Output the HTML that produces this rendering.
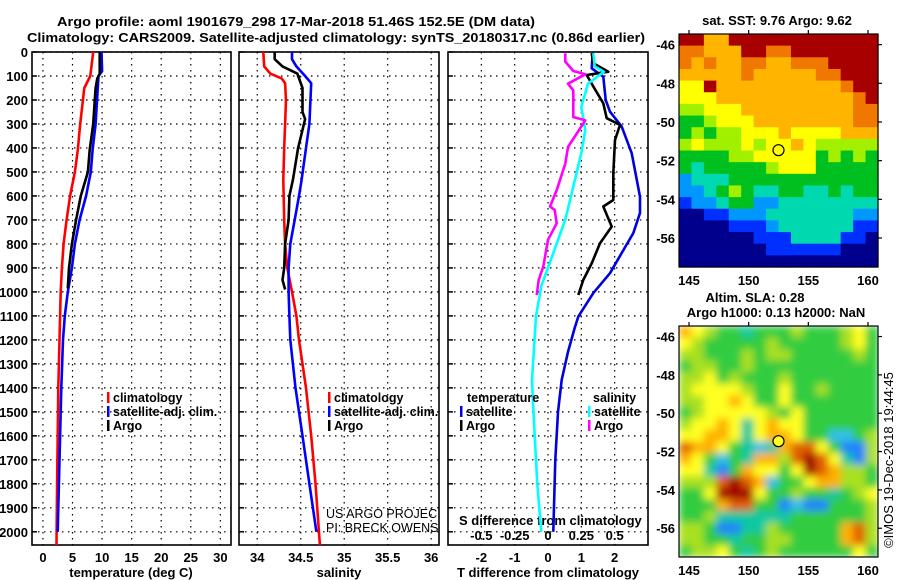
<!DOCTYPE html>
<html><head><meta charset="utf-8"><style>
html,body{margin:0;padding:0;background:#fff;}
svg{display:block;font-family:"Liberation Sans",Arial,sans-serif;}
.b{font-weight:bold;font-size:13px;}
.lg{font-weight:bold;font-size:12.5px;}
</style></head><body>
<svg id="fig" width="900" height="580" viewBox="0 0 900 580">
<defs>
<filter id="blur2" filterUnits="userSpaceOnUse" x="679" y="326" width="199" height="231"><feGaussianBlur stdDeviation="4" edgeMode="duplicate"/></filter>
</defs>
<text x="57" y="26" class="b" font-size="14" textLength="478" lengthAdjust="spacingAndGlyphs">Argo profile: aoml 1901679_298 17-Mar-2018 51.46S 152.5E (DM data)</text>
<text x="27" y="42" class="b" font-size="14" textLength="618" lengthAdjust="spacingAndGlyphs">Climatology: CARS2009. Satellite-adjusted climatology: synTS_20180317.nc (0.86d earlier)</text>
<g id="p1"></g>
<g id="p2"></g>
<g id="p3"></g>
<g id="m1"></g>
<g id="m2"></g>
<text x="893" y="460" font-size="13" text-anchor="middle" transform="rotate(-90 893 460)">©IMOS 19-Dec-2018 19:44:45</text>
</svg>
<script>
// ---- data ----
const depthTicks=[0,100,200,300,400,500,600,700,800,900,1000,1100,1200,1300,1400,1500,1600,1700,1800,1900,2000];
const tempTicks=[0,5,10,15,20,25,30];
const salTicks=[34,34.5,35,35.5,36];
const salTickLabels=['34','34.5','35','35.5','36'];
const tdiffTicks=[-2,-1,0,1,2];
const sdiffTicks=[-0.5,-0.25,0,0.25,0.5];
const sdiffTickLabels=['-0.5','-0.25','0','0.25','0.5'];

const tClimDepth=[0,100,150,300,408,500,600,700,800,900,1000,1100,1200,1400,1800,2055];
const tClimVal=[8.5,8.0,7.0,6.3,5.9,5.4,4.6,4.0,3.5,3.2,3.0,2.9,2.8,2.6,2.4,2.3];
const tSatDepth=[0,80,100,300,408,500,600,700,800,900,1000,1100,1200,1400,1800,2000];
const tSatVal=[9.9,10.0,9.4,8.9,8.4,8.1,7.3,6.2,5.4,4.9,4.2,3.7,3.4,3.1,2.7,2.5];
const tArgoDepth=[0,90,110,150,300,408,500,600,700,800,900,985];
const tArgoVal=[9.6,9.6,9.2,8.9,8.5,7.9,7.6,6.4,5.6,4.9,4.4,4.2];

const sClimDepth=[0,60,90,110,130,200,400,533,700,800,900,1000,1100,1200,1400,1600,1800,2055];
const sClimVal=[34.07,34.08,34.15,34.28,34.32,34.33,34.31,34.30,34.31,34.32,34.345,34.40,34.45,34.48,34.56,34.62,34.67,34.72];
const sSatDepth=[0,30,60,100,130,300,400,533,600,700,800,900,1000,1100,1200,1400,1600,1800,2000];
const sSatVal=[34.40,34.40,34.45,34.55,34.62,34.60,34.56,34.51,34.48,34.43,34.38,34.36,34.36,34.37,34.38,34.44,34.52,34.60,34.68];
const sArgoDepth=[0,30,60,90,150,250,280,400,533,600,700,800,900,950,990];
const sArgoVal=[34.20,34.20,34.29,34.46,34.52,34.52,34.55,34.47,34.41,34.37,34.36,34.32,34.31,34.29,34.32];

const dTSatDepth=[5,68,103,200,249,311,422,603,671,755,838,922,1005,1103,1150,1250,1367,1500,1700,2000];
const dTSatVal=[1.34,1.31,1.66,1.73,1.86,2.21,2.51,2.76,2.76,2.56,2.21,1.86,1.36,0.91,0.8,0.6,0.41,0.3,0.22,0.16];
const dTArgoDepth=[5,47,82,96,144,214,276,304,367,506,617,644,728,797,881,950,1013];
const dTArgoVal=[1.31,1.36,1.81,1.16,1.36,1.66,1.76,2.16,2.01,1.96,1.96,1.66,1.91,1.56,1.31,1.06,0.91];
const dSSatDepth=[5,60,82,132,229,326,422,561,699,838,976,1101,1367,1600,1800,2000];
const dSSatVal=[0.34,0.35,0.42,0.30,0.25,0.28,0.25,0.19,0.13,0.04,-0.05,-0.09,-0.12,-0.10,-0.08,-0.05];
const dSArgoDepth=[5,40,79,93,132,160,271,285,396,465,576,644,658,714,783,894,950,1013];
const dSArgoVal=[0.13,0.13,0.19,0.28,0.15,0.19,0.19,0.28,0.15,0.13,0.065,0.015,0.05,0.065,0.0,-0.035,-0.07,-0.085];

const lonTicks=[145,150,155,160];
const latTicks=[-46,-48,-50,-52,-54,-56];
const argoLon=152.5, argoLat=-51.46;
const sstGrid=["9977999999999999","8877799889999999","8787788778889999","7777787777788999","6697777777777899","6667777777777789","5566677777777788","4456667777777788","4545566676666777","5655565667655555","4444556666645454","4344444566644444","2333444444444444","2234543344334344","1223442233333333","0011222333333322","0000111233333311","0000001113333110","0000000111111000","0000000000000000"];
const slaGrid=["7654434445444564","6544444544444564","5544454554444454","4554454444444444","5564544454444444","5666654464454444","5566764464444444","4566666546444444","5667636766444444","6677636776442245","8776432378864115","7642437758986315","6631476646987554","5558987244677554","4469996445443456","4447884412114445","4453333334444445","5541133544444785","5544344554444785","4556434544444464"];
const sstColors=["#00008c","#0030ff","#0098ff","#00d8b0","#00c020","#a0f000","#ffff00","#ffb400","#f07800","#a80000"];
const slaColors=["#0030e0","#2080ff","#30c0e8","#10c8a0","#30cc40","#a8e020","#ffff20","#ffb000","#e06000","#a00000"];

// ---- helpers ----
const NS="http://www.w3.org/2000/svg";
function mk(parent,tag,attrs,txt){const e=document.createElementNS(NS,tag);for(const k in attrs)e.setAttribute(k,attrs[k]);if(txt!==undefined)e.textContent=txt;parent.appendChild(e);return e;}
const yTop=52,yBot=545;
const yD=d=>yTop+d*(yBot-yTop)/2055;

function panel(g,x0,x1,xmin,xmax,ticks,labels,grid,name){
  const xs=v=>x0+(v-xmin)*(x1-x0)/(xmax-xmin);
  for(const d of depthTicks){
    const y=yD(d);
    const l=mk(g,'line',{x1:x0,x2:x1,y1:y,y2:y,stroke:'#000','stroke-width':1.2,'stroke-dasharray':'1.5,4.5'});
    
    
    const t=mk(g,'line',{x1:x0,x2:x0+5,y1:y,y2:y,stroke:'#000','stroke-width':1.5});
    
    
  }
  grid.forEach(v=>{
    const x=xs(v);
    const l=mk(g,'line',{x1:x,x2:x,y1:yTop,y2:yBot,stroke:'#000','stroke-width':1.2,'stroke-dasharray':'1.5,4.5'});
    
    
  });
  if(labels){ticks.forEach((v,i)=>{
    const t=mk(g,'text',{x:xs(v),y:562,'text-anchor':'middle',class:'b'},labels[i]);
    
    
  });}
  const r=mk(g,'rect',{x:x0,y:yTop,width:x1-x0,height:yBot-yTop,fill:'none',stroke:'#000','stroke-width':1.6});
  
  
  return xs;
}
function line(g,xs,depths,vals,color,name){
  const pts=depths.map((d,i)=>xs(vals[i]).toFixed(1)+','+yD(d).toFixed(1)).join(' ');
  const p=mk(g,'polyline',{points:pts,fill:'none',stroke:color,'stroke-width':2.6,'stroke-linejoin':'round'});
  
  
}
function legendItem(g,x,y,color,label,name){
  const r=mk(g,'rect',{x:x,y:y-10,width:2.5,height:11,fill:color});
  
  
  const t=mk(g,'text',{x:x+6,y:y,class:'lg'},label);
  
  
}

// y tick labels
const svg=document.getElementById('fig');
depthTicks.forEach(d=>{
  const t=mk(svg,'text',{x:28,y:yD(d)+5,'text-anchor':'end',class:'b'},String(d));
  
  
});

// panel 1
const g1=document.getElementById('p1');
const xs1=panel(g1,32,231,-1.85,31.8,tempTicks,tempTicks.map(String),tempTicks,'temperature-panel');
line(g1,xs1,tClimDepth,tClimVal,'#ff0000','temp-climatology-line');
line(g1,xs1,tSatDepth,tSatVal,'#0000ff','temp-satellite-line');
line(g1,xs1,tArgoDepth,tArgoVal,'#000000','temp-argo-line');
legendItem(g1,107,402,'#ff0000','climatology','legend-climatology');
legendItem(g1,107,416,'#0000ff','satellite-adj. clim.','legend-satellite');
legendItem(g1,107,430,'#000000','Argo','legend-argo');
mk(g1,'text',{x:131,y:577,'text-anchor':'middle',class:'b'},'temperature (deg C)');

// panel 2
const g2=document.getElementById('p2');
const xs2=panel(g2,239,439,33.79,36.09,salTicks,salTickLabels,salTicks,'salinity-panel');
line(g2,xs2,sClimDepth,sClimVal,'#ff0000','sal-climatology-line');
line(g2,xs2,sSatDepth,sSatVal,'#0000ff','sal-satellite-line');
line(g2,xs2,sArgoDepth,sArgoVal,'#000000','sal-argo-line');
legendItem(g2,328,402,'#ff0000','climatology','legend-climatology');
legendItem(g2,328,416,'#0000ff','satellite-adj. clim.','legend-satellite');
legendItem(g2,328,430,'#000000','Argo','legend-argo');
mk(g2,'text',{x:326,y:518,'font-size':12.5},'US ARGO PROJEC');
mk(g2,'text',{x:326,y:532,'font-size':12.5},'PI: BRECK OWENS');
mk(g2,'text',{x:339,y:577,'text-anchor':'middle',class:'b'},'salinity');

// panel 3
const g3=document.getElementById('p3');
const xs3=panel(g3,448,648,-3,3,tdiffTicks,tdiffTicks.map(String),tdiffTicks,'difference-panel');
const sx=v=>xs3(v*4);
sdiffTicks.forEach((v,i)=>{
  const t=mk(g3,'text',{x:sx(v),y:540,'text-anchor':'middle',class:'b'},sdiffTickLabels[i]);
  
  
});
mk(g3,'text',{x:459,y:525,class:'b'},'S difference from climatology');
line(g3,xs3,dTSatDepth,dTSatVal,'#0000e0','t-diff-satellite-line');
line(g3,xs3,dTArgoDepth,dTArgoVal,'#000000','t-diff-argo-line');
line(g3,sx,dSSatDepth,dSSatVal,'#00ffff','s-diff-satellite-line');
line(g3,sx,dSArgoDepth,dSArgoVal,'#ff00ff','s-diff-argo-line');
mk(g3,'text',{x:467,y:402,class:'lg'},'temperature');
legendItem(g3,460,416,'#0000e0','satellite','legend-t-satellite');
legendItem(g3,460,430,'#000000','Argo','legend-t-argo');
mk(g3,'text',{x:593,y:402,class:'lg'},'salinity');
legendItem(g3,588,416,'#00ffff','satellite','legend-s-satellite');
legendItem(g3,588,430,'#ff00ff','Argo','legend-s-argo');
mk(g3,'text',{x:548,y:577,'text-anchor':'middle',class:'b'},'T difference from climatology');

// maps
function map(g,y0,y1,gridRows,colors,markerFill,name,labelY,filterId){
  const x0=679,x1=878,lonMin=144.16,lonMax=160.84,latTop=-45.45,latBot=-57.5;
  const lx=v=>x0+(v-lonMin)*(x1-x0)/(lonMax-lonMin);
  const ly=v=>y0+(latTop-v)*(y1-y0)/(latTop-latBot);
  const nr=gridRows.length,nc=gridRows[0].length;
  const cw=(x1-x0)/nc,ch=(y1-y0)/nr;
  const cg=mk(g,'g',filterId?{filter:'url(#'+filterId+')'}:{});
  
  
  gridRows.forEach((row,r)=>{for(let c=0;c<nc;c++){
    const cell=mk(cg,'rect',{x:x0+c*cw,y:y0+r*ch,width:cw+0.6,height:ch+0.6,fill:colors[+row[c]]});
    
    
  }});
  const fr=mk(g,'rect',{x:x0,y:y0,width:x1-x0,height:y1-y0,fill:'none',stroke:'#000','stroke-width':1.2});
  
  
  lonTicks.forEach(v=>{
    mk(g,'line',{x1:lx(v),x2:lx(v),y1:y0,y2:y0-4,stroke:'#000','stroke-width':1.2});
    const t=mk(g,'text',{x:lx(v),y:labelY,'text-anchor':'middle',class:'b'},String(v));
    
    
  });
  latTicks.forEach(v=>{
    mk(g,'line',{x1:x1,x2:x1+4,y1:ly(v),y2:ly(v),stroke:'#000','stroke-width':1.2});
    const t=mk(g,'text',{x:675,y:ly(v)+5,'text-anchor':'end',class:'b'},String(v));
    
    
  });
  const m=mk(g,'circle',{cx:lx(argoLon),cy:ly(argoLat),r:5.5,fill:markerFill,stroke:'#000','stroke-width':1.2});
  
  
}
const m1=document.getElementById('m1');
map(m1,34,267,sstGrid,sstColors,'none','sst-map',285,null);
mk(m1,'text',{x:777,y:25,'text-anchor':'middle',class:'b'},'sat. SST: 9.76 Argo: 9.62');
const m2=document.getElementById('m2');
map(m2,326,557,slaGrid,slaColors,'#ffff20','sla-map',575,'blur2');
mk(m2,'text',{x:755,y:302,'text-anchor':'middle',class:'b'},'Altim. SLA: 0.28');
mk(m2,'text',{x:776,y:317,'text-anchor':'middle',class:'b'},'Argo h1000: 0.13 h2000: NaN');
</script>
</body></html>
